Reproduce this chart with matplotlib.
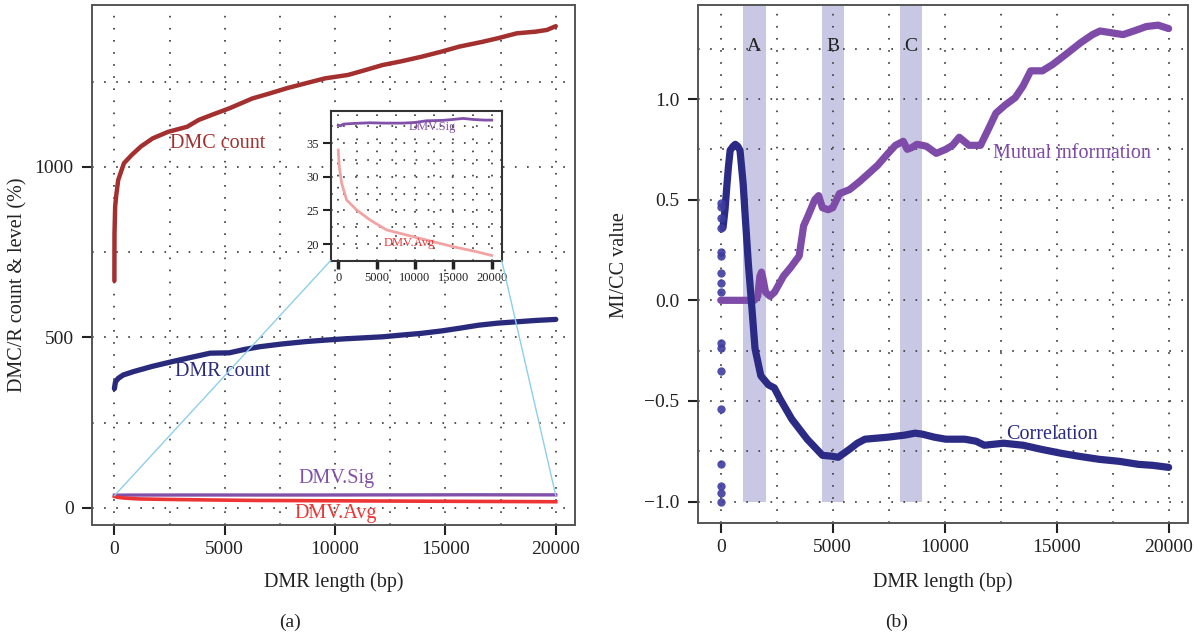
import matplotlib.pyplot as plt
from matplotlib.patches import ConnectionPatch
from matplotlib.ticker import MultipleLocator

plt.rcParams['font.family'] = ['Liberation Serif', 'DejaVu Serif']
plt.rcParams['lines.scale_dashes'] = False

# ---- panel (a) data ----
dmc_x = [0, 5, 35, 90, 174, 433, 781, 1200, 1736, 2430, 3297, 3819, 4500, 5208, 6250, 7000,
         7813, 8700, 9548, 10590, 11300, 12150, 13000, 13890, 14800, 15625, 16670, 17400,
         18230, 19100, 19600, 20000]
dmc_y = [666, 805, 884, 920, 962, 1011, 1035, 1060, 1084, 1103, 1118, 1138, 1155, 1172, 1201,
         1215, 1231, 1246, 1260, 1270, 1283, 1299, 1310, 1323, 1338, 1353, 1367, 1378, 1392,
         1397, 1402, 1413]

dmr_x = [0, 50, 174, 400, 870, 1700, 2604, 3500, 4340, 5208, 5900, 6597, 7600, 8680, 9500,
         10417, 11300, 12150, 13000, 13890, 14800, 15625, 16500, 17360, 18230, 19100, 20000]
dmr_y = [350, 370, 380, 390, 400, 415, 429, 442, 454, 455, 465, 473, 481, 488, 492, 496, 499,
         502, 507, 512, 519, 527, 536, 542, 546, 550, 553]

sig_x = [0, 300, 650, 1950, 4130, 6000, 8460, 10000, 11510, 13500, 15000, 16280, 17500,
         19000, 20000]
sig_y = [37.7, 37.6, 37.85, 37.95, 38.05, 38.0, 38.0, 38.1, 38.35, 38.4, 38.55, 38.7, 38.55,
         38.45, 38.45]

avg_x = [0, 130, 440, 1090, 2400, 4130, 6300, 8900, 11500, 15000, 18000, 20000]
avg_y = [34.0, 31.5, 29.05, 26.56, 25.07, 23.6, 22.1, 21.35, 20.6, 19.6, 18.87, 18.3]

# ---- panel (b) data ----
mi_x = [0, 500, 1000, 1500, 1650, 1750, 1820, 1900, 2000, 2200, 2400, 2800, 3100, 3500, 3700,
        3900, 4200, 4370, 4540, 4800, 5000, 5300, 5750, 6200, 6600, 7000, 7470, 7800, 8150,
        8330, 8550, 8760, 9000, 9190, 9620, 10050, 10350, 10650, 11085, 11600, 11950, 12290,
        12700, 13150, 13500, 13840, 14360, 14800, 15215, 16075, 16600, 16935, 17400, 17966,
        18500, 19000, 19530, 20000]
mi_y = [0.0, 0.0, 0.0, 0.0, 0.02, 0.12, 0.14, 0.10, 0.04, 0.02, 0.04, 0.12, 0.16, 0.22, 0.37,
        0.42, 0.50, 0.52, 0.46, 0.45, 0.46, 0.53, 0.55, 0.59, 0.63, 0.67, 0.73, 0.77, 0.79,
        0.75, 0.76, 0.775, 0.77, 0.765, 0.73, 0.75, 0.77, 0.81, 0.77, 0.77, 0.85, 0.93, 0.97,
        1.007, 1.065, 1.14, 1.14, 1.17, 1.205, 1.28, 1.32, 1.338, 1.33, 1.32, 1.34, 1.36,
        1.367, 1.35]

cc_x = [100, 190, 270, 340, 420, 550, 650, 760, 860, 940, 1000, 1085, 1233, 1385, 1530, 1790,
        2130, 2390, 2650, 3170, 3860, 4540, 5000, 5240, 5500, 5750, 6100, 6440, 7470, 8200,
        8680, 9000, 9540, 10050, 10900, 11400, 11770, 12630, 13500, 14300, 15200, 16000,
        16900, 17800, 18650, 19300, 20000]
cc_y = [0.36, 0.45, 0.565, 0.66, 0.745, 0.765, 0.775, 0.765, 0.745, 0.65, 0.58, 0.43, 0.18,
        -0.03, -0.24, -0.375, -0.42, -0.435, -0.49, -0.59, -0.69, -0.77, -0.775, -0.78,
        -0.76, -0.74, -0.71, -0.69, -0.68, -0.67, -0.66, -0.665, -0.68, -0.69, -0.69, -0.70,
        -0.72, -0.71, -0.72, -0.74, -0.76, -0.775, -0.79, -0.80, -0.815, -0.82, -0.83]

cc_start = [0.485, 0.465, 0.407, 0.358, 0.241, 0.22, 0.134, 0.084, 0.043, -0.21, -0.235,
            -0.35, -0.54, -0.813, -0.922, -0.959, -1.0]

bands = [(1000, 2000, 'A'), (4500, 5500, 'B'), (8000, 9000, 'C')]

C_DMC = '#A3302F'
C_DMR = '#2A2A7C'
C_SIG = '#8150A8'
C_AVG = '#EE3535'
C_MI = '#7E4CA8'
C_CC = '#2B2B85'
GRID = dict(linestyle=(0, (1.2, 7.5)), color='#444444', linewidth=1.3)


def style(ax, xmaj, ymaj, fs, pad_x, pad_y, length=7, xwidth=1.5):
    ax.xaxis.set_major_locator(MultipleLocator(xmaj))
    ax.xaxis.set_minor_locator(MultipleLocator(xmaj / 2))
    ax.yaxis.set_major_locator(MultipleLocator(ymaj))
    ax.yaxis.set_minor_locator(MultipleLocator(ymaj / 2))
    ax.set_axisbelow(True)
    ax.grid(which='both', **GRID)
    ax.tick_params(which='minor', length=0)
    ax.tick_params(which='major', direction='out', length=length, width=1.5,
                   labelsize=fs, colors='#222222')
    ax.tick_params(axis='x', which='major', pad=pad_x, width=xwidth)
    ax.tick_params(axis='y', which='major', pad=pad_y)
    for s in ax.spines.values():
        s.set_color('#555555')
        s.set_linewidth(1.4)


fig = plt.figure(figsize=(12.02, 6.37), dpi=100)
ax1 = fig.add_axes([0.0768, 0.1758, 0.4012, 0.8163])
ax2 = fig.add_axes([0.581, 0.1794, 0.4072, 0.8127])
axin = fig.add_axes([0.2751, 0.591, 0.1423, 0.2347])

# ---- (a) ----
ax1.plot(dmc_x, dmc_y, color=C_DMC, lw=3.2, solid_capstyle='round')
ax1.plot(dmr_x, dmr_y, color=C_DMR, lw=3.8, solid_capstyle='round')
ax1.plot(sig_x, sig_y, color=C_SIG, lw=2.4)
ax1.plot(avg_x, avg_y, color=C_AVG, lw=2.6)
ax1.set_xlim(-1000, 20850)
ax1.set_ylim(-50, 1475)
style(ax1, 5000, 500, 14, 4.5, 6.5)
ax1.text(4680, 1070, 'DMC count', color=C_DMC, fontsize=14.5, ha='center', va='center')
ax1.text(4910, 399, 'DMR count', color=C_DMR, fontsize=14.5, ha='center', va='center')
ax1.text(10060, 85, 'DMV.Sig', color=C_SIG, fontsize=14.5, ha='center', va='center')
ax1.text(10030, -15, 'DMV.Avg', color=C_AVG, fontsize=14.5, ha='center', va='center')
ax1.set_xlabel('DMR length (bp)', fontsize=14.5, color='#222222')
ax1.set_ylabel('DMC/R count & level (%)', fontsize=14.5, color='#222222')
ax1.xaxis.set_label_coords(0.5, -0.1096)
ax1.xaxis.label.set_va('center')
ax1.yaxis.set_label_coords(-0.1535, 0.463)
ax1.yaxis.label.set_va('center')

# inset
axin.plot(sig_x, sig_y, color=C_SIG, lw=2.0)
axin.plot(avg_x, avg_y, color='#F2A3A3', lw=2.0)
axin.set_xlim(-990, 21300)
axin.set_ylim(17.55, 39.8)
style(axin, 5000, 5, 9, 2.5, 2.5, length=6, xwidth=2.5)
for s in axin.spines.values():
    s.set_color('#333333')
    s.set_linewidth(1.5)
axin.text(12200, 37.4, 'DMV.Sig', color=C_SIG, fontsize=9, ha='center', va='center')
axin.text(9200, 20.1, 'DMV.Avg', color=C_AVG, fontsize=9, ha='center', va='center')

for xa, xd in [(0, 0), (1, 20000)]:
    con = ConnectionPatch(xyA=(xa, 0), coordsA=axin.transAxes, xyB=(xd, 36),
                          coordsB=ax1.transData, color='#8ECFEA', lw=1.0)
    fig.add_artist(con)

# ---- (b) ----
for x0, x1, lab in bands:
    ax2.fill_between([x0, x1], -1.0, 1.467, color='#C8C8E4', lw=0, zorder=0.3)
    ax2.text((x0 + x1) / 2, 1.26, lab, fontsize=14, color='#222222', ha='center', va='center')
ax2.plot(mi_x, mi_y, color=C_MI, lw=5.2, solid_capstyle='round', solid_joinstyle='round')
ax2.plot(cc_x, cc_y, color=C_CC, lw=5.2, solid_capstyle='round', solid_joinstyle='round')
ax2.plot([0] * len(cc_start), cc_start, 'o', color='#3D3DA0', ms=6, mec='none', alpha=0.9)
ax2.set_xlim(-1000, 20857)
ax2.set_ylim(-1.105, 1.467)
style(ax2, 5000, 0.5, 14, 4.5, 6.5)
ax2.yaxis.set_major_formatter(plt.FuncFormatter(lambda v, p: f'{v:.1f}'.replace('-', '\u2212')))
ax2.text(15700, 0.727, 'Mutual information', color=C_MI, fontsize=14.5, ha='center', va='center')
ax2.text(14790, -0.669, 'Correlation', color=C_CC, fontsize=14.5, ha='center', va='center')
ax2.set_xlabel('DMR length (bp)', fontsize=14.5, color='#222222')
ax2.set_ylabel('MI/CC value', fontsize=14.5, color='#222222')
ax2.xaxis.set_label_coords(0.5, -0.1145)
ax2.xaxis.label.set_va('center')
ax2.yaxis.set_label_coords(-0.1615, 0.498)
ax2.yaxis.label.set_va('center')

fig.text(290 / 1202, 1 - 622 / 637, '(a)', fontsize=14, color='#222222', ha='center', va='center')
fig.text(897 / 1202, 1 - 622 / 637, '(b)', fontsize=14, color='#222222', ha='center', va='center')

fig.savefig('out.png', dpi=100)
